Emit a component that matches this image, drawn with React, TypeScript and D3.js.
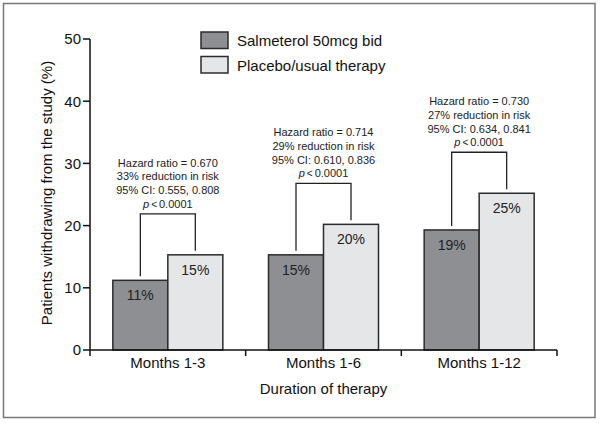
import React from "react";
import * as d3 from "d3";

const categories = ["Months 1-3", "Months 1-6", "Months 1-12"];
const seriesNames = ["Salmeterol 50mcg bid", "Placebo/usual therapy"];
const salmeterol = [11.2, 15.3, 19.3];
const placebo = [15.3, 20.2, 25.2];
const salmeterolLabels = ["11%", "15%", "19%"];
const placeboLabels = ["15%", "20%", "25%"];
const hazardLines = [
  ["Hazard ratio = 0.670", "33% reduction in risk", "95% CI: 0.555, 0.808"],
  ["Hazard ratio = 0.714", "29% reduction in risk", "95% CI: 0.610, 0.836"],
  ["Hazard ratio = 0.730", "27% reduction in risk", "95% CI: 0.634, 0.841"],
];
const pValueText = "0.0001";
const yTicks = [0, 10, 20, 30, 40, 50];
const yTitle = "Patients withdrawing from the study (%)";
const xTitle = "Duration of therapy";

const colors = ["#8e8f93", "#e5e6e8"];
const FONT = "'Liberation Sans', Arial, Helvetica, sans-serif";

export default function App() {
  const W = 600, H = 423;
  const left = 90, right = 557, top = 39, bottom = 350;
  const y = d3.scaleLinear().domain([0, 50]).range([bottom, top]);
  const x0 = d3.scaleBand<string>().domain(categories).range([left, right]).padding(0);
  const bw = x0.bandwidth();
  const inner = 110;
  const x1 = d3.scaleBand<string>().domain(seriesNames).range([(bw - inner) / 2, (bw + inner) / 2]).padding(0);
  const seriesVals = [salmeterol, placebo];
  const seriesLabels = [salmeterolLabels, placeboLabels];
  const boundaries = [...categories.map((c) => x0(c)!), right];

  return (
    <svg width={W} height={H} style={{ position: "absolute", left: 0, top: 0, background: "#fff" }} fontFamily={FONT}>
      <rect x={3.5} y={3.5} width={591.5} height={414} fill="#fff" stroke="#777" strokeWidth={1.5} />

      {/* bars */}
      {categories.map((c, i) => (
        <g key={c}>
          {seriesNames.map((s, k) => {
            const v = seriesVals[k][i];
            const bx = x0(c)! + x1(s)!;
            const by = y(v);
            return (
              <g key={s}>
                <rect x={bx} y={by} width={x1.bandwidth()} height={bottom - by} fill={colors[k]} stroke="#2b2b2b" strokeWidth={1.5} />
                <text x={bx + x1.bandwidth() / 2} y={by + 20} textAnchor="middle" fontSize={14} fill="#222">
                  {seriesLabels[k][i]}
                </text>
              </g>
            );
          })}
        </g>
      ))}

      {/* brackets and annotations */}
      {categories.map((c, i) => {
        const xl = x0(c)! + x1(seriesNames[0])! + x1.bandwidth() / 2;
        const xr = x0(c)! + x1(seriesNames[1])! + x1.bandwidth() / 2;
        const yl = y(salmeterol[i]) - 4;
        const yr = y(placebo[i]) - 4;
        const yt = y(Math.max(salmeterol[i], placebo[i])) - 41;
        const cx = (xl + xr) / 2;
        return (
          <g key={"b" + c}>
            <path d={`M${xl},${yl}V${yt}H${xr}V${yr}`} fill="none" stroke="#222" strokeWidth={1.3} />
            {hazardLines[i].map((t, j) => (
              <text key={j} x={cx} y={yt - 6 - (3 - j) * 13.7} textAnchor="middle" fontSize={11} fill="#222">
                {t}
              </text>
            ))}
            <text x={cx} y={yt - 6} textAnchor="middle" fontSize={11} fill="#222">
              <tspan fontStyle="italic">p</tspan>
              <tspan fontSize={10}>{"\u2009<\u2009"}</tspan>
              <tspan>{pValueText}</tspan>
            </text>
          </g>
        );
      })}

      {/* y axis */}
      <line x1={left} x2={left} y1={top} y2={bottom} stroke="#111" strokeWidth={1.5} />
      {yTicks.map((t) => (
        <g key={t}>
          <line x1={left - 7} x2={left} y1={y(t)} y2={y(t)} stroke="#111" strokeWidth={1.5} />
          <text x={left - 9} y={y(t)} dy="0.36em" textAnchor="end" fontSize={15} fill="#111">
            {t}
          </text>
        </g>
      ))}
      <text transform={`translate(52,193) rotate(-90)`} textAnchor="middle" fontSize={15} fill="#111">
        {yTitle}
      </text>

      {/* x axis */}
      <line x1={left} x2={right} y1={bottom} y2={bottom} stroke="#111" strokeWidth={1.5} />
      {boundaries.map((b, i) => (
        <line key={i} x1={b} x2={b} y1={bottom} y2={bottom + 6} stroke="#111" strokeWidth={1.5} />
      ))}
      {categories.map((c) => (
        <text key={c} x={x0(c)! + bw / 2} y={368} textAnchor="middle" fontSize={15} fill="#111">
          {c}
        </text>
      ))}
      <text x={(left + right) / 2} y={394} textAnchor="middle" fontSize={15} fill="#111">
        {xTitle}
      </text>

      {/* legend */}
      {seriesNames.map((s, k) => (
        <g key={s}>
          <rect x={201} y={32 + k * 24.5} width={27} height={16.5} fill={colors[k]} stroke="#2b2b2b" strokeWidth={1.5} />
          <text x={237} y={46 + k * 25} fontSize={15} fill="#111">
            {s}
          </text>
        </g>
      ))}
    </svg>
  );
}
